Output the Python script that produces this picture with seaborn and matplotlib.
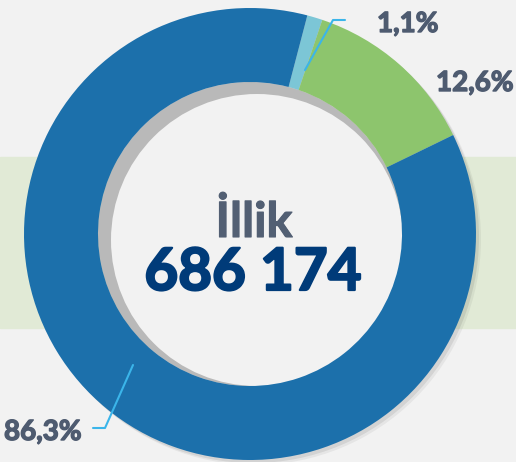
import matplotlib
matplotlib.use("Agg")
import matplotlib.pyplot as plt
import matplotlib.patheffects as pe
from matplotlib.patches import Circle
import seaborn as sns

# slice data (clockwise from the small slice near the top)
labels = ["1,1%", "12,6%", "86,3%"]
shares = [1.1, 12.6, 86.3]
slice_colors = ["#7cc6d6", "#8dc56d", "#1c70ab"]
center_title = "İllik"
center_value = "686 174"

sns.set_theme(style="white")
plt.rcParams['font.family'] = ['Lato', 'DejaVu Sans']

BG = "#f2f2f2"
fig = plt.figure(figsize=(5.16, 4.62), dpi=100, facecolor=BG)
ax = fig.add_axes([0, 0, 1, 1])
ax.set_facecolor(BG)

cx, cy = 250, 228
R, r_in = 226, 152

# light green band behind the donut
ax.axhspan(134, 305, color="#e1ead6", zorder=0)

# soft outer shadow
for off, a in [(5, 0.05), (3, 0.08)]:
    ax.add_patch(Circle((cx + off, cy - off), R, color="black", alpha=a, lw=0, zorder=1))

# inner shadow: grey hole, then offset light disc
ax.add_patch(Circle((cx, cy), r_in, color="#b9b9b9", lw=0, zorder=2))
ax.add_patch(Circle((cx + 7, cy - 6), 146, color=BG, lw=0, zorder=3))

wedges, _ = ax.pie(shares, colors=slice_colors, startangle=75.3, counterclock=False,
                   radius=R, center=(cx, cy),
                   wedgeprops=dict(width=R - r_in, linewidth=0))
for w in wedges:
    w.set_zorder(4)

ax.set_xlim(0, 516)
ax.set_ylim(0, 462)
ax.set_aspect("auto")
ax.axis("off")

# leader lines
lc = "#3bb5ea"
ax.plot([305, 333, 345], [462 - 70, 462 - 20, 462 - 20], color=lc, lw=1.5, zorder=5)
ax.plot([133, 105, 93], [462 - 365, 462 - 428, 462 - 428], color=lc, lw=1.5, zorder=5)

lab_c = "#4e5b70"
for x, y, s in [(377, 430, labels[0]), (436, 371, labels[1]), (4, 22, labels[2])]:
    ax.text(x, y, s, color=lab_c, fontsize=20, fontweight="bold", ha="left", va="baseline", zorder=6,
            path_effects=[pe.withStroke(linewidth=1.0, foreground=lab_c)])

ax.text(254, 225, center_title, color="#525f73", fontsize=35, fontweight="bold", ha="center", va="baseline",
        zorder=6, path_effects=[pe.withStroke(linewidth=0.8, foreground="#525f73")])
ax.text(253, 172, center_value, color="#003b79", fontsize=42, fontweight="bold", ha="center", va="baseline",
        zorder=6, path_effects=[pe.withStroke(linewidth=1.6, foreground="#003b79")])

fig.savefig("out.png", dpi=100, facecolor=BG)
